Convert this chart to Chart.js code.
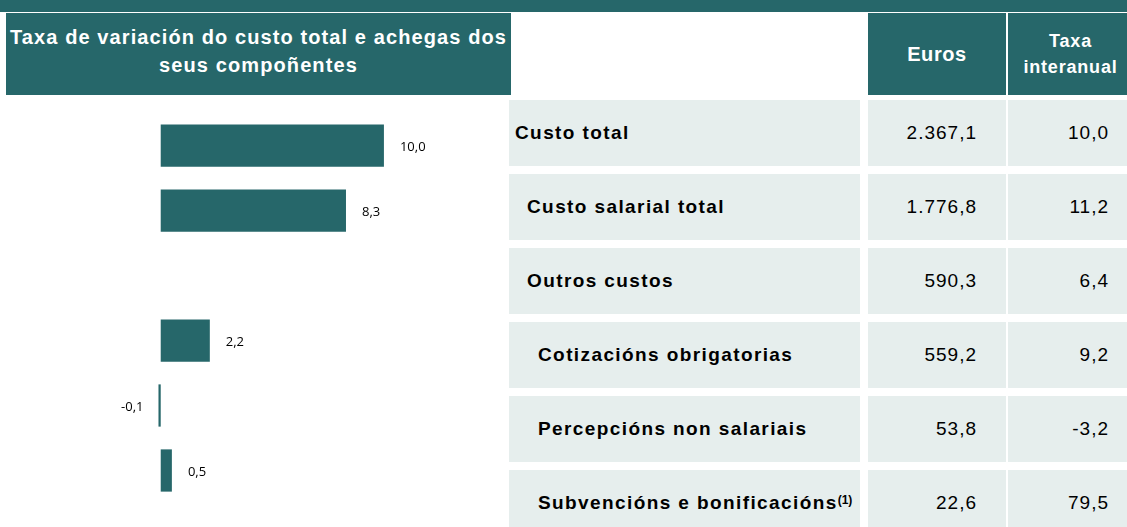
<!DOCTYPE html>
<html>
<head>
<meta charset="utf-8">
<script src="https://cdn.jsdelivr.net/npm/chart.js@4.4.0/dist/chart.umd.min.js"></script>
<style>
  body { margin: 0; width: 1127px; height: 527px; overflow: hidden; background: #fff; font-family: "Liberation Sans", Arial, sans-serif; position: relative; }
  .banda { position: absolute; left: 0; top: 0; width: 1127px; height: 12px; background: #26676a; }
  .cab { position: absolute; top: 13px; height: 82px; background: #26676a; color: #fff; font-weight: bold; display: flex; align-items: center; justify-content: center; text-align: center; }
  .cela { position: absolute; height: 66px; background: #e6eeed; display: flex; align-items: center; font-size: 19px; color: #000; }
  .etq { font-weight: bold; letter-spacing: 1.4px; }
  .num { justify-content: flex-end; letter-spacing: 1px; }
  #grafico { position: absolute; left: 0; top: 113px; }
</style>
</head>
<body>
<div class="banda"></div>
<div class="cab" style="left:6px;width:505px;font-size:20px;line-height:28px;letter-spacing:1.1px;padding-bottom:6px;box-sizing:border-box;">Taxa de variación do custo total e achegas dos<br>seus compoñentes</div>
<div class="cab" style="left:868px;width:138px;font-size:20px;letter-spacing:0.6px;">Euros</div>
<div class="cab" style="left:1008px;width:119px;font-size:18px;line-height:26px;letter-spacing:0.8px;padding-left:6px;box-sizing:border-box;">Taxa<br>interanual</div>
<div id="taboa"></div>
<canvas id="grafico" width="500" height="390"></canvas>

<script>
// Datos
const categorias = ['Custo total', 'Custo salarial total', 'Outros custos', 'Cotizacións obrigatorias', 'Percepcións non salariais', 'Subvencións e bonificacións'];
const niveis = [0, 1, 1, 2, 2, 2];
const euros = ['2.367,1', '1.776,8', '590,3', '559,2', '53,8', '22,6'];
const taxaInteranual = ['10,0', '11,2', '6,4', '9,2', '-3,2', '79,5'];
const achegas = [10.0, 8.3, null, 2.2, -0.1, 0.5];

const corTeal = '#26676a';

// Táboa da dereita
function debuxarTaboa(){
    const taboa = document.getElementById('taboa');
    const sangria = [6, 18, 29];
    categorias.forEach(function(cat, i){
        const y = 100 + i * 74;
        let texto = cat;
        if (i === categorias.length - 1) texto += '<sup style="font-size:12px;letter-spacing:0;position:relative;top:-3px;">(1)</sup>';
        taboa.insertAdjacentHTML('beforeend',
            '<div class="cela etq" style="left:509px;width:' + (351 - sangria[niveis[i]]) + 'px;top:' + y + 'px;padding-left:' + sangria[niveis[i]] + 'px;">' + texto + '</div>' +
            '<div class="cela num" style="left:868px;width:109px;padding-right:29px;top:' + y + 'px;">' + euros[i] + '</div>' +
            '<div class="cela num" style="left:1008px;width:101px;padding-right:18px;top:' + y + 'px;">' + taxaInteranual[i] + '</div>');
    });
}

function formatar(v){
    return v.toFixed(1).replace('.', ',');
}

// Etiquetas das barras
const etiquetasBarras = {
    id: 'etiquetasBarras',
    afterDatasetsDraw(chart){
        const ctx = chart.ctx;
        const meta = chart.getDatasetMeta(0);
        ctx.save();
        ctx.font = '13px "Open Sans", "Liberation Sans", sans-serif';
        ctx.fillStyle = '#000';
        ctx.textBaseline = 'middle';
        meta.data.forEach(function(barra, i){
            const v = achegas[i];
            if (v === null) return;
            if (v >= 0) {
                ctx.textAlign = 'left';
                ctx.fillText(formatar(v), barra.x + 16, barra.y + 2);
            } else {
                ctx.textAlign = 'right';
                ctx.fillText(formatar(v), barra.x - 15, barra.y + 2);
            }
        });
        ctx.restore();
    }
};

function desenharGrafico(){
    new Chart(document.getElementById('grafico'), {
        type: 'bar',
        data: {
            labels: categorias,
            datasets: [{
                data: achegas,
                backgroundColor: corTeal,
                borderWidth: 0,
                categoryPercentage: 1,
                barPercentage: 0.65
            }]
        },
        options: {
            indexAxis: 'y',
            responsive: false,
            animation: false,
            layout: { padding: 0 },
            plugins: { legend: { display: false }, tooltip: { enabled: false } },
            scales: {
                x: { display: false, min: -7.2, max: 15.2 },
                y: { display: false }
            }
        },
        plugins: [etiquetasBarras]
    });
}

debuxarTaboa();
desenharGrafico();
</script>
</body>
</html>
